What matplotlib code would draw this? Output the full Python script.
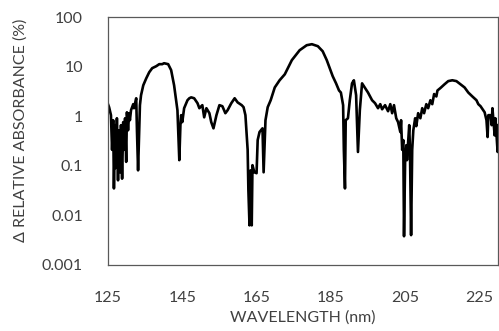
import matplotlib
matplotlib.use('Agg')
import matplotlib.pyplot as plt
from matplotlib.ticker import FixedLocator, FixedFormatter

plt.rcParams['font.family'] = ['Lato', 'DejaVu Sans']

# difference spectrum, wavelength in nm and relative absorbance change in %
wavelength = [
    125.0, 125.3, 125.8, 126.1, 126.4, 126.6, 126.8, 126.9, 127.0, 127.2,
    127.4, 127.7, 127.9, 128.0, 128.3, 128.5, 128.8, 129.1, 129.3, 129.6,
    129.9, 130.1, 130.4, 130.7, 130.9, 131.2, 131.8, 132.0, 132.6, 132.8,
    133.1, 133.4, 133.6, 133.9, 134.5, 135.3, 136.1, 136.9, 138.0, 138.8,
    139.6, 140.1, 141.2, 142.0, 142.8, 143.7, 143.9, 144.2, 144.5, 144.7,
    145.0, 145.5, 146.4, 146.9, 147.4, 148.2, 149.1, 149.6, 150.4, 150.9,
    151.5, 152.3, 152.8, 153.4, 154.2, 155.0, 155.8, 156.6, 157.2, 158.2,
    159.1, 159.9, 161.0, 161.5, 162.0, 162.6, 162.8, 163.1, 163.4, 163.7,
    163.9, 164.4, 165.0, 165.3, 165.8, 166.6, 166.9, 167.4, 168.0, 168.8,
    169.9, 171.2, 172.6, 174.5, 176.6, 178.5, 179.9, 181.5, 182.8, 183.9,
    184.7, 185.5, 186.4, 187.2, 187.7, 188.3, 188.5, 188.8, 189.0, 189.6,
    190.1, 190.7, 191.2, 191.8, 192.3, 192.8, 193.4, 194.2, 195.0, 196.1,
    196.9, 197.7, 198.3, 198.8, 199.6, 200.4, 201.0, 201.5, 202.0, 202.6,
    203.1, 203.7, 203.9, 204.2, 204.5, 204.7, 205.0, 205.3, 205.5, 206.1,
    206.3, 206.6, 206.9, 207.2, 207.7, 208.0, 208.5, 209.1, 209.6, 210.1,
    210.7, 211.2, 211.8, 212.3, 212.8, 213.4, 213.7, 214.5, 215.6, 216.6,
    217.7, 218.8, 219.9, 221.0, 222.0, 223.1, 224.2, 224.7, 225.3, 226.4,
    226.9, 227.2, 227.4, 228.0, 228.3, 228.5, 229.1, 229.3, 229.9, 230.1,
]
rel_absorbance = [
    1.75, 1.52, 1.05, 0.21, 0.83, 0.035, 0.30, 0.66, 0.09, 0.13,
    0.91, 0.051, 0.40, 0.52, 0.074, 0.66, 0.055, 0.76, 0.21, 0.91,
    0.12, 1.20, 0.52, 1.15, 0.83, 1.32, 1.75, 1.45, 2.3, 0.52,
    0.081, 0.52, 1.67, 2.65, 4.2, 5.8, 7.7, 9.3, 10.2, 11.2,
    11.2, 11.7, 11.2, 8.5, 4.2, 1.32, 0.52, 0.13, 0.66, 1.05,
    0.76, 1.45, 2.1, 2.3, 2.4, 2.3, 1.83, 1.45, 1.67, 0.95,
    1.45, 1.15, 0.76, 0.57, 1.05, 1.67, 1.59, 1.15, 1.32, 1.83,
    2.3, 1.9, 1.67, 1.52, 1.05, 0.21, 0.032, 0.0063, 0.081, 0.0063,
    0.103, 0.074, 0.071, 0.33, 0.48, 0.57, 0.074, 0.83, 1.52, 2.1,
    3.8, 5.3, 7.0, 13.5, 21.4, 27.0, 28.3, 25.8, 20.4, 13.5,
    9.3, 6.4, 4.6, 3.3, 3.0, 1.67, 0.21, 0.035, 0.83, 0.91,
    2.1, 4.6, 5.3, 2.65, 0.19, 1.32, 4.6, 3.7, 3.0, 2.1,
    1.83, 1.45, 1.75, 1.38, 1.67, 1.26, 1.75, 1.15, 1.67, 0.91,
    0.76, 0.48, 0.83, 0.21, 0.33, 0.0038, 0.13, 0.26, 0.13, 0.66,
    0.21, 0.0040, 0.21, 0.52, 0.91, 0.63, 1.15, 0.91, 1.45, 1.15,
    1.75, 1.45, 2.1, 1.75, 2.8, 2.5, 3.3, 3.7, 4.4, 5.1,
    5.3, 5.1, 4.4, 3.8, 3.0, 2.5, 2.1, 1.75, 1.59, 1.20,
    0.83, 0.38, 1.05, 1.05, 0.66, 1.45, 0.41, 0.91, 0.19, 0.66,
]

x_ticks = [125, 145, 165, 185, 205, 225]
y_ticks = [0.001, 0.01, 0.1, 1, 10, 100]
y_tick_labels = ['0.001', '0.01', '0.1', '1', '10', '100']

text_color = '#404040'

fig = plt.figure(figsize=(4.99, 3.31), dpi=100)
ax = fig.add_axes([0.2164, 0.1994, 0.7816, 0.7492])

ax.plot(wavelength, rel_absorbance, color='black', linewidth=1.9,
        solid_joinstyle='round')

ax.set_yscale('log')
ax.set_xlim(125, 230)
ax.set_ylim(0.001, 100)

ax.xaxis.set_major_locator(FixedLocator(x_ticks))
ax.yaxis.set_major_locator(FixedLocator(y_ticks))
ax.yaxis.set_major_formatter(FixedFormatter(y_tick_labels))
ax.yaxis.set_minor_locator(FixedLocator([]))
ax.tick_params(axis='both', length=0, labelsize=11.5, colors=text_color)
ax.tick_params(axis='x', pad=19)
ax.tick_params(axis='y', pad=18)

for side in ax.spines.values():
    side.set_color('#595959')
    side.set_linewidth(0.9)

fig.text(303 / 499, 1 - 318 / 331, 'WAVELENGTH (nm)', ha='center', va='center',
         fontsize=11.5, color=text_color)
fig.text(21 / 499, 1 - 130 / 331, 'Δ RELATIVE ABSORBANCE (%)', ha='center',
         va='center', rotation=90, fontsize=11.5, color=text_color)

fig.savefig('out.png', dpi=100)
